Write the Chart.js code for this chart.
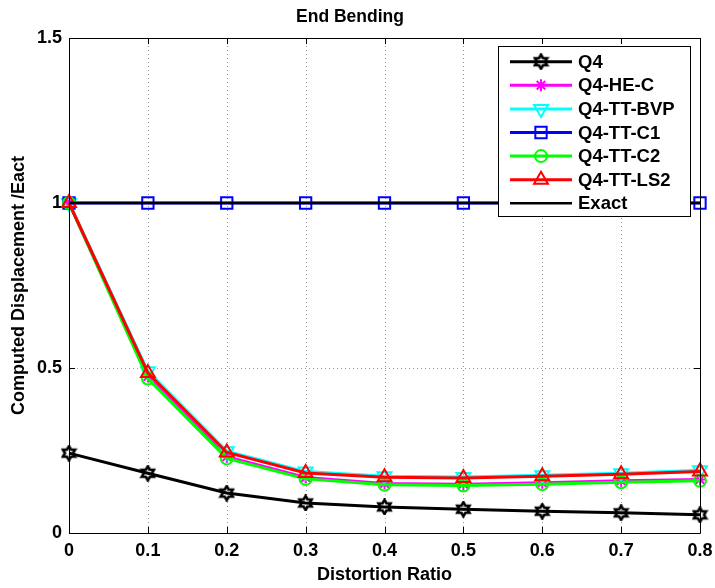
<!DOCTYPE html>
<html>
<head>
<meta charset="utf-8">
<title>End Bending</title>
<script src="https://cdn.jsdelivr.net/npm/chart.js@4.4.1/dist/chart.umd.min.js"></script>
<style>
    html, body { margin: 0; padding: 0; background: #fff; }
    #wrap { width: 715px; height: 588px; }
</style>
</head>
<body>
<div id="wrap"><canvas id="endBending" width="715" height="588"></canvas></div>
<script>
// distortion ratio on x, displacement normalised by exact solution on y
const ratios = [0, 0.1, 0.2, 0.3, 0.4, 0.5, 0.6, 0.7, 0.8];
const q4 = [0.242, 0.181, 0.121, 0.091, 0.079, 0.072, 0.066, 0.061, 0.055];
const q4HeC = [1.0, 0.474, 0.231, 0.168, 0.150, 0.148, 0.152, 0.158, 0.162];
const q4TtBvp = [1.0, 0.490, 0.248, 0.186, 0.172, 0.170, 0.175, 0.181, 0.190];
const q4TtC1 = [1.0, 1.0, 1.0, 1.0, 1.0, 1.0, 1.0, 1.0, 1.0];
const q4TtC2 = [1.0, 0.468, 0.226, 0.164, 0.146, 0.144, 0.148, 0.154, 0.158];
const q4TtLs2 = [1.0, 0.485, 0.244, 0.182, 0.169, 0.167, 0.172, 0.178, 0.186];
const exact = [1.0, 1.0, 1.0, 1.0, 1.0, 1.0, 1.0, 1.0, 1.0];

const xTicks = [0, 0.1, 0.2, 0.3, 0.4, 0.5, 0.6, 0.7, 0.8];
const yTicks = [0, 0.5, 1, 1.5];

const FONT = "'Liberation Sans', Arial, sans-serif";
Chart.defaults.font.family = FONT;
Chart.defaults.color = "#000";

function toPoints(values) {
    return values.map((v, i) => ({ x: ratios[i], y: v }));
}

// six-pointed star outline (no built-in style for it)
function makeHexagram(size, color) {
    const c = document.createElement("canvas");
    c.width = size;
    c.height = size;
    const g = c.getContext("2d");
    const cx = size / 2, cy = size / 2;
    const outer = size / 2 - 1.5;
    const inner = outer / Math.sqrt(3);
    g.beginPath();
    for (let k = 0; k < 12; k++) {
        const ang = -Math.PI / 2 + (k * Math.PI) / 6;
        const r = k % 2 === 0 ? outer : inner;
        const px = cx + r * Math.cos(ang);
        const py = cy + r * Math.sin(ang);
        if (k === 0) g.moveTo(px, py);
        else g.lineTo(px, py);
    }
    g.closePath();
    g.strokeStyle = color;
    g.lineWidth = 2.6;
    g.lineJoin = "miter";
    g.stroke();
    return c;
}
const hexagram = makeHexagram(17, "#000");

function series(label, values, color, style, radius, order, extra) {
    return Object.assign(
        {
            label: label,
            data: toPoints(values),
            borderColor: color,
            backgroundColor: color,
            borderWidth: 3,
            pointStyle: style,
            pointRadius: radius,
            pointBorderColor: color,
            pointBackgroundColor: "rgba(0,0,0,0)",
            pointBorderWidth: 2,
            pointRotation: 0,
            tension: 0,
            clip: false,
            order: order,
        },
        extra || {}
    );
}

const datasets = [
    series("Q4", q4, "#000000", hexagram, 8, 7),
    series("Q4-HE-C", q4HeC, "#ff00ff", "star", 6, 6),
    series("Q4-TT-BVP", q4TtBvp, "#00ffff", "triangle", 8, 5, { pointRotation: 180 }),
    series("Q4-TT-C1", q4TtC1, "#0000ff", "rect", 8, 4),
    series("Q4-TT-C2", q4TtC2, "#00ff00", "circle", 6, 3),
    series("Q4-TT-LS2", q4TtLs2, "#ff0000", "triangle", 8, 2),
    series("Exact", exact, "#000000", false, 0, 1, { borderWidth: 2.5 }),
];

// dotted grid, boxed axes with inward ticks
const axesFrame = {
    id: "axesFrame",
    beforeDatasetsDraw(chart) {
        const { ctx, chartArea: a, scales } = chart;
        ctx.save();
        ctx.strokeStyle = "#999";
        ctx.lineWidth = 1;
        ctx.setLineDash([1, 3]);
        xTicks.forEach((v) => {
            const px = Math.round(scales.x.getPixelForValue(v)) + 0.5;
            if (px <= a.left + 1 || px >= a.right - 1) return;
            ctx.beginPath();
            ctx.moveTo(px, a.top);
            ctx.lineTo(px, a.bottom);
            ctx.stroke();
        });
        yTicks.forEach((v) => {
            const py = Math.round(scales.y.getPixelForValue(v)) + 0.5;
            if (py <= a.top + 1 || py >= a.bottom - 1) return;
            ctx.beginPath();
            ctx.moveTo(a.left, py);
            ctx.lineTo(a.right, py);
            ctx.stroke();
        });
        ctx.restore();
    },
    afterDatasetsDraw(chart) {
        const { ctx, chartArea: a, scales } = chart;
        const t = 6;
        ctx.save();
        ctx.strokeStyle = "#000";
        ctx.lineWidth = 1;
        ctx.beginPath();
        ctx.rect(Math.round(a.left) + 0.5, Math.round(a.top) + 0.5,
            Math.round(a.right - a.left), Math.round(a.bottom - a.top));
        xTicks.forEach((v) => {
            const px = Math.round(scales.x.getPixelForValue(v)) + 0.5;
            ctx.moveTo(px, a.bottom);
            ctx.lineTo(px, a.bottom - t);
            ctx.moveTo(px, a.top);
            ctx.lineTo(px, a.top + t);
        });
        yTicks.forEach((v) => {
            const py = Math.round(scales.y.getPixelForValue(v)) + 0.5;
            ctx.moveTo(a.left, py);
            ctx.lineTo(a.left + t, py);
            ctx.moveTo(a.right, py);
            ctx.lineTo(a.right - t, py);
        });
        ctx.stroke();
        ctx.restore();
    },
};

// boxed legend with line + marker samples, top right of the plot
const boxLegend = {
    id: "boxLegend",
    afterDraw(chart) {
        const ctx = chart.ctx;
        const box = { left: 498, top: 46, right: 690, bottom: 216 };
        const rowStart = 61.7, rowStep = 23.6;
        ctx.save();
        ctx.fillStyle = "#fff";
        ctx.fillRect(box.left, box.top, box.right - box.left, box.bottom - box.top);
        ctx.strokeStyle = "#000";
        ctx.lineWidth = 1;
        ctx.strokeRect(box.left + 0.5, box.top + 0.5, box.right - box.left, box.bottom - box.top);
        chart.data.datasets.forEach((ds, i) => {
            const y = rowStart + i * rowStep;
            ctx.strokeStyle = ds.borderColor;
            ctx.lineWidth = ds.borderWidth;
            ctx.beginPath();
            ctx.moveTo(510, y);
            ctx.lineTo(572, y);
            ctx.stroke();
            if (ds.pointStyle) {
                ctx.strokeStyle = ds.pointBorderColor;
                ctx.fillStyle = ds.pointBackgroundColor;
                ctx.lineWidth = ds.pointBorderWidth;
                Chart.helpers.drawPoint(ctx, {
                    pointStyle: ds.pointStyle,
                    radius: ds.pointRadius,
                    rotation: ds.pointRotation,
                    borderWidth: ds.pointBorderWidth,
                }, 541, y);
            }
            ctx.fillStyle = "#000";
            ctx.font = "bold 18.5px " + FONT;
            ctx.textBaseline = "middle";
            ctx.textAlign = "left";
            ctx.fillText(ds.label, 578, y + 1);
        });
        ctx.restore();
    },
};

new Chart(document.getElementById("endBending").getContext("2d"), {
    type: "line",
    data: { datasets: datasets },
    options: {
        responsive: false,
        animation: false,
        events: [],
        layout: { padding: { left: 0, right: 15, top: 0, bottom: 0 } },
        plugins: {
            legend: { display: false },
            tooltip: { enabled: false },
            title: {
                display: true,
                text: "End Bending",
                color: "#000",
                font: { size: 17.5, weight: "bold" },
                padding: { top: 7, bottom: 10 },
            },
        },
        scales: {
            x: {
                type: "linear",
                min: 0,
                max: 0.8,
                afterBuildTicks: (scale) => {
                    scale.ticks = xTicks.map((v) => ({ value: v }));
                },
                afterFit: (scale) => {
                    scale.height = 55;
                    // let the end labels hang past the plot edges
                    scale.paddingLeft = 0;
                    scale.paddingRight = 0;
                },
                grid: { display: false, drawTicks: false },
                border: { display: false },
                ticks: {
                    padding: 7,
                    maxRotation: 0,
                    autoSkip: false,
                    color: "#000",
                    font: { size: 18, weight: "bold" },
                    callback: (value) => (value === 0 ? "0" : String(value)),
                },
                title: {
                    display: true,
                    text: "Distortion Ratio",
                    color: "#000",
                    font: { size: 18, weight: "bold" },
                    padding: { top: 2, bottom: 2 },
                },
            },
            y: {
                min: 0,
                max: 1.5,
                afterBuildTicks: (scale) => {
                    scale.ticks = yTicks.map((v) => ({ value: v }));
                },
                afterFit: (scale) => {
                    scale.width = 69;
                },
                grid: { display: false, drawTicks: false },
                border: { display: false },
                ticks: {
                    padding: 7,
                    autoSkip: false,
                    color: "#000",
                    font: { size: 18, weight: "bold" },
                    callback: (value) => (value === 0 ? "0" : String(value)),
                },
                title: {
                    display: true,
                    text: "Computed Displacement /Eact",
                    color: "#000",
                    font: { size: 18, weight: "bold" },
                    padding: { top: 8, bottom: 0 },
                },
            },
        },
    },
    plugins: [axesFrame, boxLegend],
});
</script>
</body>
</html>
